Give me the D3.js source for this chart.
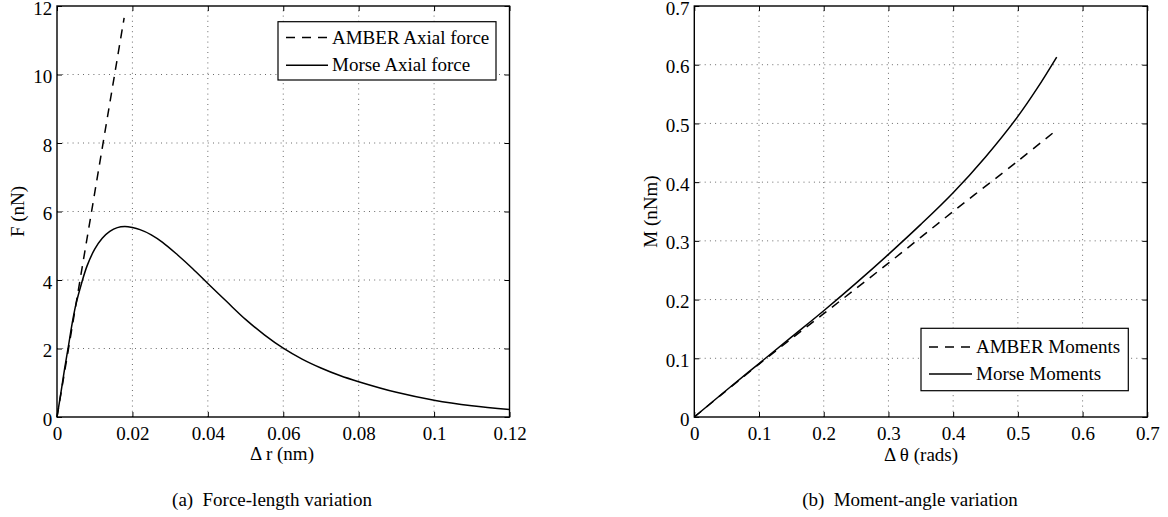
<!DOCTYPE html>
<html>
<head>
<meta charset="utf-8">
<script src="https://cdn.jsdelivr.net/npm/d3@7"></script>
<style>
  body { margin: 0; background: #fff; }
  svg { display: block; }
</style>
</head>
<body>
<svg id="chart" width="1168" height="517"></svg>
<script>
// ---- Panel (a): axial force against bond stretch ----
const drTicks = [0, 0.02, 0.04, 0.06, 0.08, 0.1, 0.12];
const drTickLabels = ["0", "0.02", "0.04", "0.06", "0.08", "0.1", "0.12"];
const forceTicks = [0, 2, 4, 6, 8, 10, 12];
const forceTickLabels = ["0", "2", "4", "6", "8", "10", "12"];

const amberForceDr = [0, 0.0178];
const amberForce = [0, 11.65];

const morseForceDr = [0, 0.001, 0.002, 0.003, 0.004, 0.005, 0.0065, 0.008, 0.010, 0.012,
  0.014, 0.016, 0.018, 0.020, 0.022, 0.025, 0.028, 0.032, 0.036, 0.040, 0.045, 0.050,
  0.055, 0.060, 0.065, 0.070, 0.075, 0.080, 0.090, 0.100, 0.110, 0.120];
const morseForce = [0, 0.68, 1.40, 2.05, 2.72, 3.28, 3.90, 4.42, 4.90, 5.22,
  5.42, 5.53, 5.56, 5.53, 5.47, 5.32, 5.10, 4.73, 4.33, 3.90, 3.37, 2.85,
  2.40, 2.01, 1.69, 1.43, 1.21, 1.03, 0.72, 0.49, 0.33, 0.22];

// ---- Panel (b): bending moment against angle change ----
const thetaTicks = [0, 0.1, 0.2, 0.3, 0.4, 0.5, 0.6, 0.7];
const thetaTickLabels = ["0", "0.1", "0.2", "0.3", "0.4", "0.5", "0.6", "0.7"];
const momentTicks = [0, 0.1, 0.2, 0.3, 0.4, 0.5, 0.6, 0.7];
const momentTickLabels = ["0", "0.1", "0.2", "0.3", "0.4", "0.5", "0.6", "0.7"];

const amberMomentTheta = [0, 0.1, 0.2, 0.3, 0.4, 0.5, 0.56];
const amberMoment = [0, 0.090, 0.176, 0.262, 0.350, 0.436, 0.489];

const morseMomentTheta = [0, 0.05, 0.1, 0.15, 0.2, 0.25, 0.3, 0.35, 0.4, 0.45, 0.5, 0.53, 0.56];
const morseMoment = [0, 0.046, 0.091, 0.136, 0.181, 0.228, 0.277, 0.328, 0.382, 0.443, 0.512, 0.560, 0.613];

const svg = d3.select("#chart");
const FONT_FAMILY = "'Liberation Serif', 'Times New Roman', serif";
const FONT = "19px";

function styleText(sel) {
  return sel.style("font-family", FONT_FAMILY).style("font-size", FONT).style("fill", "#000");
}

function panel(cfg) {
  const x = d3.scaleLinear().domain([cfg.xTicks[0], cfg.xTicks[cfg.xTicks.length - 1]]).range(cfg.xRange);
  const y = d3.scaleLinear().domain([cfg.yTicks[0], cfg.yTicks[cfg.yTicks.length - 1]]).range(cfg.yRange);
  const [x0, x1] = cfg.xRange;
  const [y0, y1] = cfg.yRange;
  const g = svg.append("g");

  // dotted grid
  const grid = g.append("g").attr("stroke", "#6a6a6a").attr("stroke-width", 1).attr("stroke-dasharray", "1,4.2");
  grid.selectAll(".gx").data(cfg.xTicks.slice(1, -1)).join("line")
    .attr("x1", d => x(d)).attr("x2", d => x(d)).attr("y1", y0).attr("y2", y1);
  grid.selectAll(".gy").data(cfg.yTicks.slice(1, -1)).join("line")
    .attr("y1", d => y(d)).attr("y2", d => y(d)).attr("x1", x0).attr("x2", x1);

  // axes with inward ticks on all four sides
  const fmtX = d => cfg.xLabels[cfg.xTicks.indexOf(d)];
  const fmtY = d => cfg.yLabels[cfg.yTicks.indexOf(d)];
  const bottom = g.append("g").attr("transform", `translate(0,${y0})`)
    .call(d3.axisBottom(x).tickValues(cfg.xTicks).tickFormat(fmtX).tickSizeInner(-5).tickSizeOuter(0));
  bottom.selectAll("text").attr("dy", null).attr("y", 23);
  const top = g.append("g").attr("transform", `translate(0,${y1})`)
    .call(d3.axisTop(x).tickValues(cfg.xTicks).tickFormat("").tickSizeInner(-5).tickSizeOuter(0));
  const left = g.append("g").attr("transform", `translate(${x0},0)`)
    .call(d3.axisLeft(y).tickValues(cfg.yTicks).tickFormat(fmtY).tickSizeInner(-5).tickSizeOuter(0));
  left.selectAll("text").attr("x", -4.7).attr("dy", 8);
  const right = g.append("g").attr("transform", `translate(${x1},0)`)
    .call(d3.axisRight(y).tickValues(cfg.yTicks).tickFormat("").tickSizeInner(-5).tickSizeOuter(0));
  [bottom, top, left, right].forEach(a => {
    a.attr("font-family", null).attr("font-size", null);
    a.select(".domain").remove();
    a.selectAll("line").attr("stroke", "#000").attr("stroke-width", 1);
    styleText(a.selectAll("text"));
  });

  // plot frame
  g.append("rect").attr("x", x0).attr("y", y1).attr("width", x1 - x0).attr("height", y0 - y1)
    .attr("fill", "none").attr("stroke", "#000").attr("stroke-width", 1.4);

  // series
  const line = d3.line().x(d => x(d[0])).y(d => y(d[1])).curve(d3.curveCatmullRom.alpha(0.5));
  cfg.series.forEach(s => {
    g.append("path").datum(d3.zip(s.xs, s.ys)).attr("d", line)
      .attr("fill", "none").attr("stroke", "#000").attr("stroke-width", 1.5)
      .attr("stroke-dasharray", s.dash || null);
  });

  // axis titles
  styleText(g.append("text").attr("x", cfg.xTitlePos[0]).attr("y", cfg.xTitlePos[1])
    .attr("text-anchor", "middle")).text(cfg.xTitle);
  styleText(g.append("text").attr("transform", `translate(${cfg.yTitlePos[0]},${cfg.yTitlePos[1]}) rotate(-90)`)
    .attr("text-anchor", "middle")).text(cfg.yTitle);

  // caption
  const cap = styleText(g.append("text").attr("x", cfg.captionPos[0]).attr("y", cfg.captionPos[1])
    .attr("text-anchor", "middle"));
  cap.append("tspan").text(cfg.captionTag);
  cap.append("tspan").attr("dx", 4.6).text(" " + cfg.caption);

  // legend
  const L = cfg.legend;
  const lg = g.append("g");
  lg.append("rect").attr("x", L.box[0]).attr("y", L.box[1]).attr("width", L.box[2]).attr("height", L.box[3])
    .attr("fill", "#fff").attr("stroke", "#000").attr("stroke-width", 1.2);
  cfg.series.forEach((s, i) => {
    const ly = L.rows[i];
    lg.append("line").attr("x1", L.sample[0]).attr("x2", L.sample[1]).attr("y1", ly).attr("y2", ly)
      .attr("stroke", "#000").attr("stroke-width", 1.5).attr("stroke-dasharray", s.dash || null);
    styleText(lg.append("text").attr("x", L.textX).attr("y", ly + 6)).text(s.name);
  });
}

panel({
  xTicks: drTicks, xLabels: drTickLabels,
  yTicks: forceTicks, yLabels: forceTickLabels,
  xRange: [57, 509.5], yRange: [417, 6],
  series: [
    { name: "AMBER Axial force", xs: amberForceDr, ys: amberForce, dash: "9,7" },
    { name: "Morse Axial force", xs: morseForceDr, ys: morseForce }
  ],
  xTitle: "\u0394 r (nm)", xTitlePos: [282, 460],
  yTitle: "F (nN)", yTitlePos: [23.5, 211.5],
  captionTag: "(a)", caption: "Force-length variation", captionPos: [272, 506],
  legend: { box: [278, 21.7, 218, 58.3], rows: [37.5, 65.3], sample: [286, 328], textX: 332 }
});

panel({
  xTicks: thetaTicks, xLabels: thetaTickLabels,
  yTicks: momentTicks, yLabels: momentTickLabels,
  xRange: [694.3, 1147.3], yRange: [417, 6],
  series: [
    { name: "AMBER Moments", xs: amberMomentTheta, ys: amberMoment, dash: "9,7" },
    { name: "Morse Moments", xs: morseMomentTheta, ys: morseMoment }
  ],
  xTitle: "\u0394 \u03b8 (rads)", xTitlePos: [921, 461],
  yTitle: "M (nNm)", yTitlePos: [656.5, 211.5],
  captionTag: "(b)", caption: "Moment-angle variation", captionPos: [910, 506],
  legend: { box: [921, 328.3, 207.3, 62.4], rows: [347, 374], sample: [929, 972], textX: 976 }
});
</script>
</body>
</html>
